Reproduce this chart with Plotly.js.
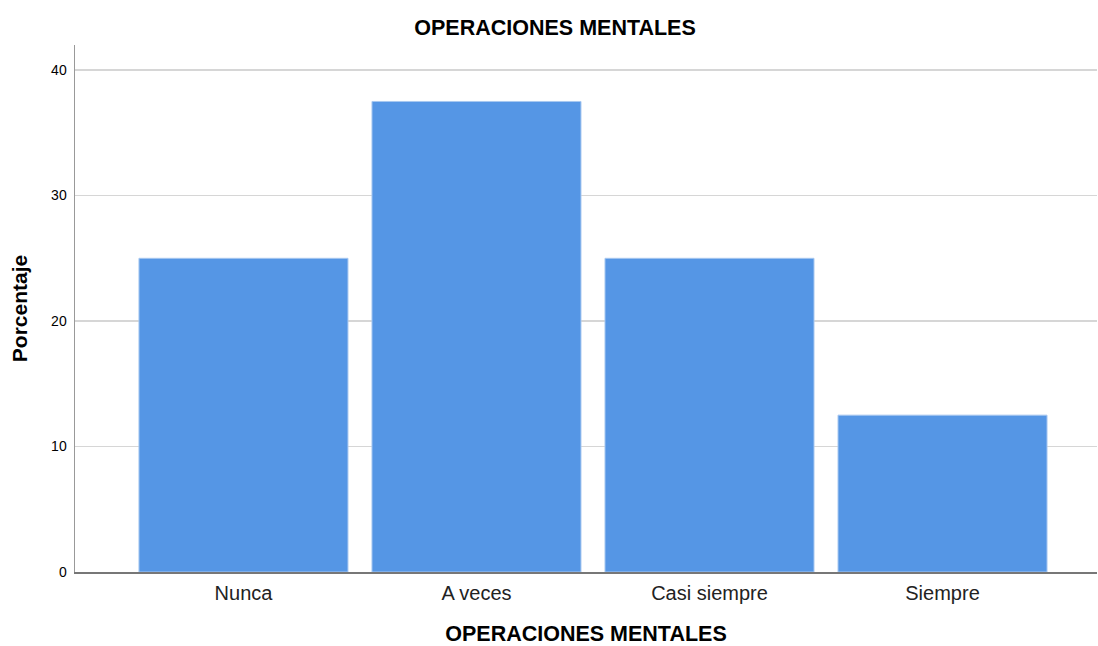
<!DOCTYPE html>
<html>
<head>
<meta charset="utf-8">
<script src="https://cdn.plot.ly/plotly-3.0.1.min.js"></script>
<style>html,body{margin:0;padding:0;background:#fff;}#chart{width:1098px;height:646px;}</style>
</head>
<body>
<div id="chart"></div>
<script>
const categories = ["Nunca", "A veces", "Casi siempre", "Siempre"];
const percentages = [25, 37.5, 25, 12.5];
const yTicks = [0, 10, 20, 30, 40];

const trace = {
  type: "bar",
  x: categories,
  y: percentages,
  width: 0.897,
  marker: {color: "#5596e5", line: {color: "#a8c8f0", width: 1}},
  hoverinfo: "x+y"
};

const layout = {
  width: 1098, height: 646,
  margin: {l: 75, r: 1, t: 45, b: 74},
  paper_bgcolor: "#ffffff", plot_bgcolor: "#ffffff",
  font: {family: "Liberation Sans, Arial, sans-serif", color: "#000"},
  title: {text: "<b>OPERACIONES MENTALES</b>", x: 0.5055, xanchor: "center", y: 0.958, yanchor: "middle",
          font: {size: 21.5, color: "#000"}},
  showlegend: false,
  bargap: 0,
  xaxis: {
    type: "category",
    range: [-0.723, 3.663],
    showgrid: false, zeroline: false,
    showline: true, linecolor: "#777", linewidth: 1.5,
    ticks: "",
    ticklabelstandoff: 2,
    tickfont: {size: 20, color: "#222"},
    title: {text: "<b>OPERACIONES MENTALES</b>", font: {size: 21.5, color: "#000"}, standoff: 24}
  },
  yaxis: {
    range: [0, 42],
    tickvals: yTicks,
    ticktext: yTicks.map(String),
    showgrid: true, gridcolor: "#d6d6d6", gridwidth: 1.5,
    zeroline: false,
    showline: true, linecolor: "#999", linewidth: 1.5,
    ticks: "",
    ticklabelstandoff: 4,
    tickfont: {size: 14, color: "#000"},
    title: {text: "<b>Porcentaje</b>", font: {size: 21, color: "#000"}, standoff: 18}
  }
};

Plotly.newPlot("chart", [trace], layout, {displayModeBar: false, staticPlot: true});
</script>
</body>
</html>
